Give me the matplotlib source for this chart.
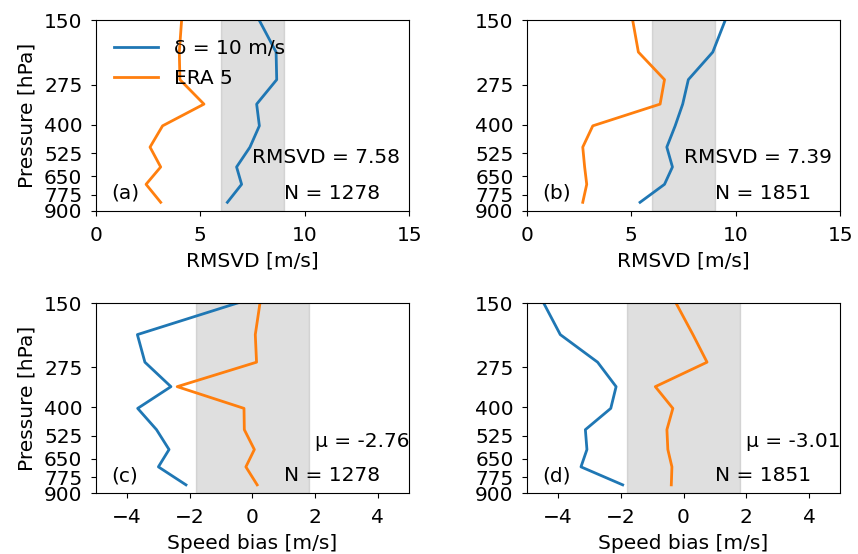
import matplotlib.pyplot as plt
import numpy as np

# Pressure levels (hPa) of the profiles
pressure = [150, 202, 262, 330, 405, 495, 597, 703, 833]
yticks = [150, 275, 400, 525, 650, 775, 900]

# RMSVD profiles [m/s]
rmsvd_a_delta = [7.83, 8.63, 8.66, 7.70, 7.83, 7.38, 6.74, 6.98, 6.30]
rmsvd_a_era5 = [4.11, 4.00, 4.03, 5.18, 3.20, 2.60, 3.11, 2.41, 3.11]
rmsvd_b_delta = [9.49, 8.90, 7.73, 7.46, 7.10, 6.70, 6.97, 6.59, 5.42]
rmsvd_b_era5 = [5.07, 5.34, 6.59, 6.38, 3.16, 2.68, 2.77, 2.87, 2.68]

# Speed bias profiles [m/s]
bias_c_delta = [-0.48, -3.67, -3.43, -2.60, -3.66, -3.06, -2.66, -3.00, -2.12]
bias_c_era5 = [0.24, 0.09, 0.13, -2.40, -0.27, -0.26, 0.06, -0.21, 0.15]
bias_d_delta = [-4.46, -3.93, -2.74, -2.15, -2.32, -3.13, -3.08, -3.27, -1.94]
bias_d_era5 = [-0.24, 0.30, 0.75, -0.90, -0.34, -0.53, -0.50, -0.37, -0.39]

panels = [
    ("(a)", rmsvd_a_delta, rmsvd_a_era5, "RMSVD = 7.58", "N = 1278", (6, 9), (0, 15)),
    ("(b)", rmsvd_b_delta, rmsvd_b_era5, "RMSVD = 7.39", "N = 1851", (6, 9), (0, 15)),
    ("(c)", bias_c_delta, bias_c_era5, "\u03bc = -2.76", "N = 1278", (-1.8, 1.8), (-5, 5)),
    ("(d)", bias_d_delta, bias_d_era5, "\u03bc = -3.01", "N = 1851", (-1.8, 1.8), (-5, 5)),
]

plt.rcParams['font.size'] = 14.5

fig = plt.figure(figsize=(8.58, 5.54), dpi=100)
lefts = [0.1115, 0.6139]
bottoms = [0.620, 0.110]
w, h = 0.3655, 0.343

for i, (tag, delta, era5, stat, n, band, xlim) in enumerate(panels):
    ax = fig.add_axes([lefts[i % 2], bottoms[i // 2], w, h])
    ax.axvspan(band[0], band[1], color='gray', alpha=0.25, zorder=1)
    ax.plot(delta, pressure, color='C0', lw=2, label="\u03b4 = 10 m/s", zorder=2)
    ax.plot(era5, pressure, color='C1', lw=2, label="ERA 5", zorder=2)
    ax.set_yscale('log')
    ax.set_ylim(900, 150)
    ax.set_yticks(yticks)
    ax.set_yticklabels([str(t) for t in yticks])
    ax.minorticks_off()
    ax.tick_params(axis='x', pad=7.5)
    ax.tick_params(axis='y', pad=6)
    ax.set_xlim(*xlim)
    if i < 2:
        ax.set_xticks([0, 5, 10, 15])
        ax.set_xlabel("RMSVD [m/s]", labelpad=5)
        ax.text(0.50, 0.28, stat, transform=ax.transAxes, va='center')
    else:
        ax.set_xticks([-4, -2, 0, 2, 4])
        ax.set_xlabel("Speed bias [m/s]", labelpad=5)
        ax.text(0.70, 0.27, stat, transform=ax.transAxes, va='center')
    ax.text(0.05, 0.09, tag, transform=ax.transAxes, va='center')
    ax.text(0.60, 0.09, n, transform=ax.transAxes, va='center')
    if i % 2 == 0:
        ax.set_ylabel("Pressure [hPa]", labelpad=5)
    if i == 0:
        ax.legend(loc='upper left', frameon=False, handlelength=2.2,
                  borderaxespad=0.5, labelspacing=0.55)

plt.savefig("out.png", dpi=100)
